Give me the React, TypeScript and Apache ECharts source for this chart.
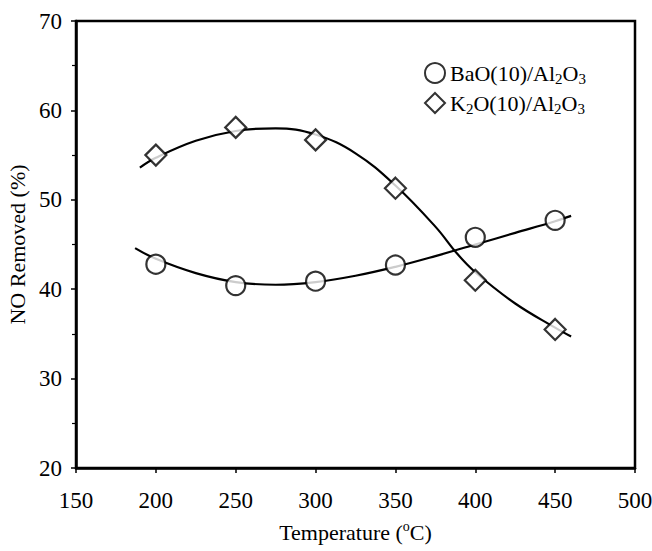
import React, { useEffect, useRef } from "react";
import * as echarts from "echarts";

const temps = [200, 250, 300, 350, 400, 450];
const baoValues = [42.8, 40.4, 40.9, 42.7, 45.8, 47.7];
const k2oValues = [55.0, 58.1, 56.7, 51.3, 41.0, 35.5];

const baoCurveX = [187, 200, 225, 250, 275, 300, 325, 350, 375, 400, 425, 450, 460];
const baoCurveY = [44.6, 43.4, 41.8, 40.8, 40.5, 40.8, 41.5, 42.5, 43.7, 45.0, 46.3, 47.6, 48.2];
const k2oCurveX = [190, 200, 225, 250, 275, 300, 325, 350, 375, 389, 400, 425, 450, 460];
const k2oCurveY = [53.6, 54.7, 56.6, 57.7, 58.0, 57.3, 55.2, 51.6, 47.0, 43.9, 41.9, 38.4, 35.7, 34.7];

const xTicks = [150, 200, 250, 300, 350, 400, 450, 500];
const yTicks = [20, 30, 40, 50, 60, 70];

const FONT = "Liberation Serif";

export default function App() {
  const ref = useRef<HTMLDivElement>(null);
  useEffect(() => {
    if (!ref.current) return;
    const chart = echarts.init(ref.current, null, { renderer: "svg" });
    const zip = (xs: number[], ys: number[]) => xs.map((x, i) => [x, ys[i]]);
    chart.setOption({
      animation: false,
      backgroundColor: "#fff",
      textStyle: { fontFamily: FONT, color: "#000" },
      grid: {
        left: 76,
        right: 17,
        top: 21,
        bottom: 83,
        containLabel: false,
        outerBoundsMode: "none",
        show: true,
        borderColor: "#000",
        borderWidth: 2.5,
        backgroundColor: "transparent",
      },
      legend: {
        orient: "vertical",
        left: 419,
        top: 57,
        itemGap: 6,
        itemWidth: 20,
        itemHeight: 20,
        data: ["BaO(10)/Al2O3", "K2O(10)/Al2O3"],
        formatter: (name: string) =>
          name === "BaO(10)/Al2O3"
            ? "{n|BaO(10)/Al}{s|2}{n|O}{s|3}"
            : "{n|K}{s|2}{n|O(10)/Al}{s|2}{n|O}{s|3}",
        textStyle: {
          fontFamily: FONT,
          color: "#000",
          rich: {
            n: { fontFamily: FONT, fontSize: 22, lineHeight: 26, color: "#000", verticalAlign: "middle" },
            s: { fontFamily: FONT, fontSize: 15, lineHeight: 15, color: "#000", verticalAlign: "bottom" },
          },
        },
      },
      xAxis: {
        type: "value",
        min: 150,
        max: 500,
        interval: 50,
        name: "{n|Temperature (}{sup|o}{n|C)}",
        nameLocation: "middle",
        nameGap: 51,
        nameTextStyle: {
          rich: {
            n: { fontFamily: FONT, fontSize: 22, lineHeight: 26, color: "#000" },
            sup: { fontFamily: FONT, fontSize: 14, lineHeight: 14, color: "#000", verticalAlign: "top" },
          },
        },
        axisLine: { show: true, lineStyle: { color: "#000", width: 2.5 } },
        axisTick: { show: true, inside: false, length: 5, lineStyle: { color: "#000", width: 1.5 } },
        axisLabel: { fontFamily: FONT, fontSize: 23, color: "#000", margin: 21, customValues: xTicks },
        splitLine: { show: false },
      },
      yAxis: {
        type: "value",
        min: 20,
        max: 70,
        interval: 10,
        name: "NO Removed (%)",
        nameLocation: "middle",
        nameGap: 47,
        nameTextStyle: { fontFamily: FONT, fontSize: 22, color: "#000" },
        axisLine: { show: true, lineStyle: { color: "#000", width: 2.5 } },
        axisTick: { show: true, inside: false, length: 5, lineStyle: { color: "#000", width: 1.5 } },
        minorTick: { show: true, splitNumber: 2, length: 4, lineStyle: { color: "#000", width: 1.2 } },
        axisLabel: { fontFamily: FONT, fontSize: 23, color: "#000", margin: 14, customValues: yTicks },
        splitLine: { show: false },
      },
      series: [
        {
          name: "BaO curve",
          type: "line",
          smooth: 0.4,
          showSymbol: false,
          symbol: "none",
          data: zip(baoCurveX, baoCurveY),
          lineStyle: { color: "#000", width: 2.2 },
          z: 2,
        },
        {
          name: "K2O curve",
          type: "line",
          smooth: 0.4,
          showSymbol: false,
          symbol: "none",
          data: zip(k2oCurveX, k2oCurveY),
          lineStyle: { color: "#000", width: 2.2 },
          z: 2,
        },
        {
          name: "BaO(10)/Al2O3",
          type: "scatter",
          symbol: "circle",
          symbolSize: 19,
          data: zip(temps, baoValues),
          itemStyle: { color: "#fff", borderColor: "#000", borderWidth: 2.2 },
          z: 5,
        },
        {
          name: "K2O(10)/Al2O3",
          type: "scatter",
          symbol: "diamond",
          symbolSize: [21, 21],
          data: zip(temps, k2oValues),
          itemStyle: { color: "#fff", borderColor: "#000", borderWidth: 2.2 },
          z: 5,
        },
      ],
    });
    return () => chart.dispose();
  }, []);
  return <div ref={ref} style={{ width: 652, height: 551, position: "absolute", left: 0, top: 0 }} />;
}
